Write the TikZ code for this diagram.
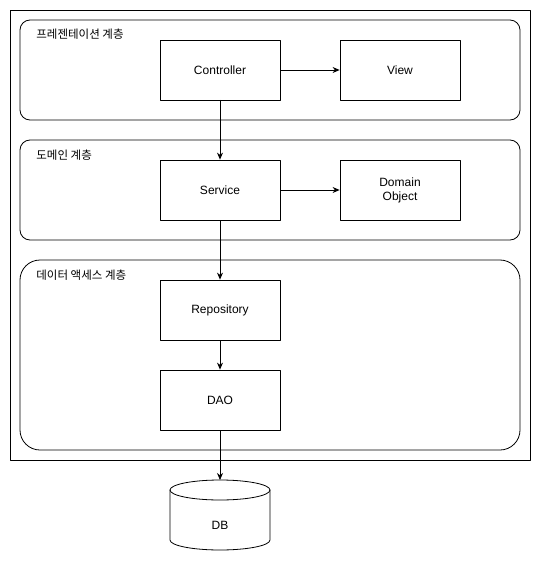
\documentclass[tikz,border=0pt]{standalone}
\usepackage{fontspec}
\setmainfont{Liberation Sans}
\newfontfamily\kofont{Noto Sans CJK KR}
\usetikzlibrary{arrows.meta, calc}

\begin{document}
\begin{tikzpicture}[x=1pt, y=-1pt, thick, line join=round, line cap=round,
    font=\fontsize{12}{14}\selectfont,
    layerbox/.style={draw, rounded corners=10pt},
    compbox/.style={draw, minimum width=120pt, minimum height=60pt, align=center, inner sep=0pt},
    layertitle/.style={anchor=west, inner sep=0pt, font=\kofont\fontsize{11.5}{14}\selectfont},
    flow/.style={-{Stealth[length=7pt, width=6pt]}}]
        % 전체 영역 (bounding box)
        \useasboundingbox (0,0) rectangle (541,561);

        % 바깥 테두리
        \draw (10,10) rectangle (530,460);

        % 세 개의 계층 영역
        \draw[layerbox] (20,20) rectangle (520,120);
        \draw[layerbox] (20,140) rectangle (520,240);
        \draw[layerbox, rounded corners=20pt] (20,260) rectangle (520,450);

        % 계층 이름
        \node[layertitle] (presTitle) at (36,34) {프레젠테이션 계층};
        \node[layertitle] (domTitle) at (36,155) {도메인 계층};
        \node[layertitle] (dataTitle) at (36,275) {데이터 액세스 계층};

        % 구성 요소
        \node[compbox] (controller) at (220,70) {Controller};
        \node[compbox] (view) at (400,70) {View};
        \node[compbox] (service) at (220,190) {Service};
        \node[compbox] (domain) at (400,190) {Domain\\Object};
        \node[compbox] (repo) at (220,310) {Repository};
        \node[compbox] (dao) at (220,400) {DAO};

        % 데이터베이스 (원통)
        \def\rx{50}
        \def\ry{10}
        \coordinate (dbTop) at (220,480);
        \draw (170,490) -- (170,540) arc[start angle=180, end angle=360, x radius=\rx, y radius=-\ry]
              -- (270,490);
        \draw (220,490) ellipse[x radius=\rx, y radius=\ry];
        \node[minimum width=100pt, minimum height=50pt, inner sep=0pt] (db) at (220,525) {DB};

        % 의존 관계 화살표
        \draw[flow] (controller) -- (view);
        \draw[flow] (controller) -- (service);
        \draw[flow] (service) -- (domain);
        \draw[flow] (service) -- (repo);
        \draw[flow] (repo) -- (dao);
        \draw[flow] (dao) -- (dbTop);

    \end{tikzpicture}
\end{document}
